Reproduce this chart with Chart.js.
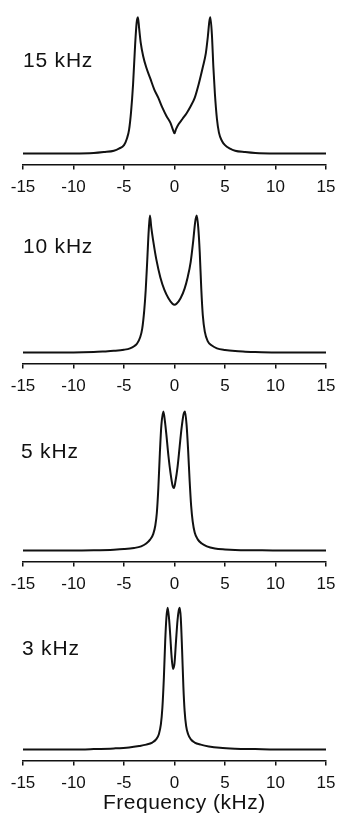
<!DOCTYPE html>
<html><head><meta charset="utf-8">
<script src="https://cdn.jsdelivr.net/npm/chart.js@4/dist/chart.umd.min.js"></script>
<style>
html,body{margin:0;padding:0;background:#fff;width:338px;height:817px;overflow:hidden;}
.panel{position:absolute;left:0;width:338px;}
.lab{position:absolute;font-family:"Liberation Sans",Arial,sans-serif;font-size:21px;color:#111;line-height:20px;white-space:nowrap;letter-spacing:0.8px}
.xt{position:absolute;font-family:"Liberation Sans",Arial,sans-serif;font-size:21px;color:#111;line-height:20px;white-space:nowrap;letter-spacing:0.5px}
</style></head><body>
<div class="panel" style="top:0px;height:200px"><canvas id="c0"></canvas></div>
<div class="panel" style="top:199px;height:200px"><canvas id="c1"></canvas></div>
<div class="panel" style="top:397px;height:200px"><canvas id="c2"></canvas></div>
<div class="panel" style="top:596px;height:221px"><canvas id="c3"></canvas></div>
<div class="lab" id="l0" style="left:23px;top:50px"></div>
<div class="lab" id="l1" style="left:23px;top:236px"></div>
<div class="lab" id="l2" style="left:21px;top:441px"></div>
<div class="lab" id="l3" style="left:22px;top:638px"></div>
<div class="xt" id="xt" style="left:103px;top:792px"></div>
<script>
// ---- data ----
const panelLabels = ["15 kHz", "10 kHz", "5 kHz", "3 kHz"];
const xTicks = [-15, -10, -5, 0, 5, 10, 15];
const xTitle = "Frequency (kHz)";

const freq15 = [-15,-10,-8,-7,-6,-5.5,-5,-4.7,-4.5,-4.3,-4.1,-3.9,-3.75,-3.62,-3.5,-3.35,-3.1,-2.8,-2.4,-2.0,-1.6,-1.2,-0.8,-0.4,-0.15,0,0.15,0.4,0.8,1.2,1.6,2.0,2.4,2.8,3.1,3.3,3.45,3.55,3.7,3.85,4.0,4.2,4.4,4.7,5.0,5.5,6,7,8,10,15];
const int15  = [0,0,0.003,0.01,0.02,0.035,0.06,0.11,0.17,0.3,0.5,0.78,0.94,0.98,0.9,0.8,0.7,0.62,0.54,0.46,0.4,0.33,0.27,0.22,0.17,0.145,0.175,0.21,0.25,0.29,0.34,0.4,0.5,0.62,0.72,0.84,0.95,0.98,0.86,0.62,0.43,0.25,0.15,0.09,0.06,0.035,0.02,0.01,0.003,0,0];

const freq10 = [-15,-10,-8,-7,-6,-5,-4.4,-4.0,-3.7,-3.4,-3.2,-3.0,-2.85,-2.7,-2.55,-2.43,-2.3,-2.1,-1.8,-1.4,-1.0,-0.6,-0.2,0,0.2,0.6,1.0,1.3,1.6,1.85,2.05,2.2,2.35,2.5,2.65,2.8,3.0,3.3,3.7,4.2,5,6,7,8,10,15];
const int10  = [0,0,0.003,0.007,0.012,0.02,0.03,0.045,0.065,0.11,0.17,0.3,0.45,0.66,0.88,0.985,0.9,0.8,0.67,0.54,0.45,0.39,0.35,0.343,0.35,0.39,0.46,0.54,0.65,0.8,0.94,0.985,0.9,0.72,0.46,0.27,0.15,0.08,0.05,0.03,0.018,0.01,0.006,0.003,0,0];

const freq5 = [-15,-10,-8,-6,-5,-4,-3.3,-2.8,-2.4,-2.1,-1.9,-1.75,-1.6,-1.45,-1.3,-1.1,-0.95,-0.8,-0.6,-0.4,-0.2,-0.05,0.1,0.3,0.5,0.7,0.9,1.04,1.2,1.35,1.5,1.65,1.8,2.0,2.3,2.7,3.2,4,5,6,8,10,15];
const int5  = [0,0,0.002,0.006,0.01,0.018,0.03,0.05,0.08,0.12,0.18,0.27,0.45,0.7,0.9,1.0,0.93,0.83,0.68,0.56,0.47,0.45,0.5,0.6,0.74,0.88,0.98,1.0,0.9,0.72,0.5,0.32,0.21,0.13,0.08,0.05,0.03,0.015,0.008,0.004,0.002,0,0];

const freq3 = [-15,-10,-8,-6,-4.5,-3.5,-2.8,-2.2,-1.8,-1.55,-1.35,-1.2,-1.05,-0.92,-0.8,-0.68,-0.55,-0.42,-0.3,-0.15,0,0.15,0.3,0.42,0.52,0.62,0.75,0.88,1.0,1.15,1.35,1.6,2.0,2.6,3.4,4.5,6,8,10,15];
const int3  = [0,0,0.003,0.008,0.015,0.025,0.035,0.05,0.075,0.11,0.18,0.3,0.52,0.78,0.95,1.02,0.95,0.82,0.68,0.58,0.62,0.78,0.93,1.0,1.02,0.95,0.72,0.45,0.28,0.17,0.11,0.075,0.05,0.035,0.022,0.012,0.006,0.003,0,0];

const freqs = [freq15, freq10, freq5, freq3];
const ints = [int15, int10, int5, int3];

panelLabels.forEach((t, i) => { document.getElementById('l' + i).textContent = t; });
document.getElementById('xt').textContent = xTitle;

Chart.defaults.font.family = '"Liberation Sans", Arial, sans-serif';
Chart.defaults.color = '#111';
Chart.defaults.animation = false;

const Y_MIN = -0.0791, Y_MAX = 1.0324;

for (let i = 0; i < 4; i++) {
  const last = i === 3;
  const pts = freqs[i].map((f, k) => ({x: f, y: ints[i][k]}));
  new Chart(document.getElementById('c' + i), {
    type: 'line',
    data: { datasets: [{
      label: panelLabels[i],
      data: pts,
      borderColor: '#111',
      borderWidth: 2,
      pointRadius: 0,
      fill: false,
      cubicInterpolationMode: 'monotone',
      clip: false
    }]},
    options: {
      responsive: true,
      maintainAspectRatio: false,
      animation: false,
      events: [],
      layout: { padding: { top: 10, left: 23, right: 12, bottom: 0 } },
      plugins: { legend: { display: false }, tooltip: { enabled: false } },
      scales: {
        x: {
          type: 'linear',
          min: -15, max: 15,
          afterBuildTicks: (s) => { s.ticks = xTicks.map(v => ({value: v})); },
          afterFit: (s) => { s.height = last ? 56.5 : 35.5; s.paddingLeft = 0; s.paddingRight = 0; },
          ticks: { font: { size: 17 }, color: '#111', padding: 8, maxRotation: 0, autoSkip: false },
          grid: { drawOnChartArea: false, drawTicks: true, tickLength: 5, color: '#111', lineWidth: 1.5 },
          border: { display: true, color: '#111', width: 1.5 },
          title: { display: false }
        },
        y: { display: false, min: Y_MIN, max: Y_MAX }
      }
    }
  });
}
</script>
</body></html>
